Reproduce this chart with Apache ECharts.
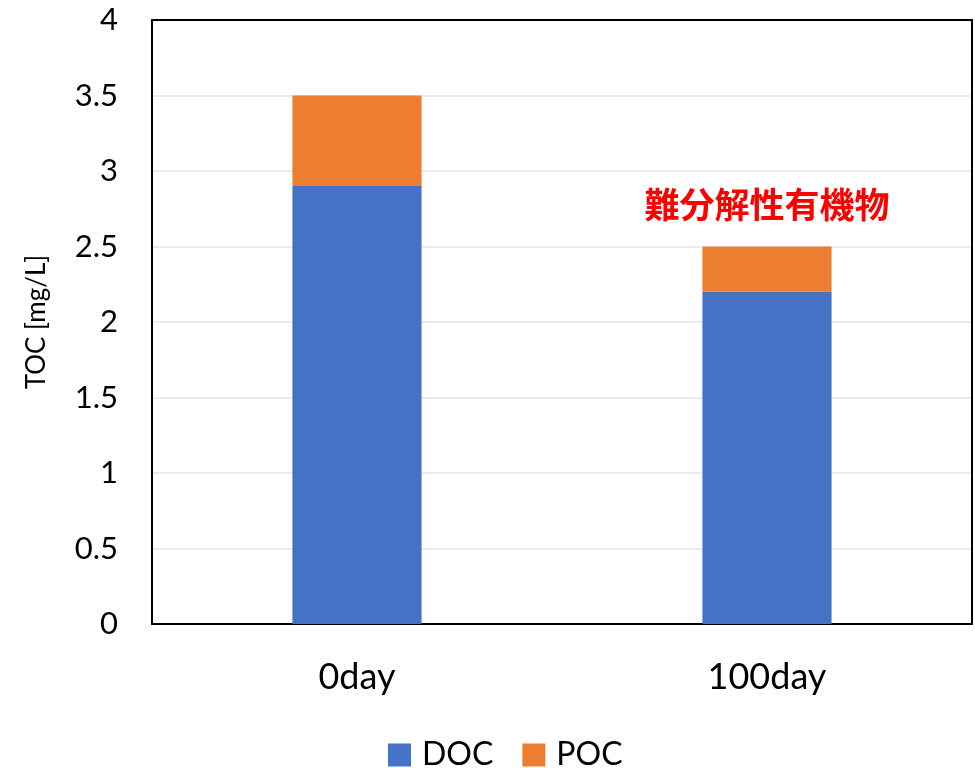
<!DOCTYPE html>
<html>
<head>
<meta charset="utf-8">
<script src="https://cdn.jsdelivr.net/npm/echarts@6/dist/echarts.min.js"></script>
<style>
  html, body { margin: 0; padding: 0; background: #fff; }
  #chart { width: 975px; height: 768px; }
</style>
</head>
<body>
<div id="chart"></div>
<script>
// Sampling days
const categories = ['0day', '100day'];
// Dissolved and particulate organic carbon, mg/L
const docValues = [2.9, 2.2];
const pocValues = [0.6, 0.3];
// Annotation over the 100-day stack
const noteText = '難分解性有機物';
const noteIndex = 1;

const font = 'Lato, "Open Sans", sans-serif';

const pocData = pocValues.map((v, i) => i === noteIndex ? {
  value: v,
  label: {
    show: true,
    position: 'top',
    distance: 24,
    formatter: noteText,
    color: '#ff0000',
    fontWeight: 'bold',
    fontSize: 35,
    fontFamily: '"Noto Sans CJK JP", sans-serif'
  }
} : v);

// Plain axes on the top and right close the plot frame
const frameLine = { show: true, onZero: false, lineStyle: { color: '#000', width: 2 } };

const chart = echarts.init(document.getElementById('chart'), null, { renderer: 'canvas' });
chart.setOption({
  animation: false,
  backgroundColor: '#ffffff',
  grid: { left: 152, right: 3, top: 20, bottom: 144, containLabel: false },
  legend: {
    data: ['DOC', 'POC'],
    top: 734,
    left: 383,
    itemWidth: 23,
    itemHeight: 23,
    itemGap: 29,
    icon: 'rect',
    textStyle: { fontSize: 32, color: '#000', fontFamily: font, padding: [0, 0, 0, 6] }
  },
  xAxis: [
    {
      type: 'category',
      data: categories,
      axisLine: frameLine,
      axisTick: { show: false },
      axisLabel: { fontSize: 36, color: '#000', fontFamily: font, margin: 35 }
    },
    {
      type: 'category',
      data: categories,
      position: 'top',
      axisLine: frameLine,
      axisTick: { show: false },
      axisLabel: { show: false },
      splitLine: { show: false }
    }
  ],
  yAxis: [
    {
      type: 'value',
      min: 0, max: 4, interval: 0.5,
      name: 'TOC [mg/L]',
      nameLocation: 'middle',
      nameGap: 102,
      nameTextStyle: { fontSize: 26, color: '#000', fontFamily: font },
      axisLine: frameLine,
      axisTick: { show: false },
      axisLabel: { fontSize: 31, color: '#000', fontFamily: font, margin: 34 },
      splitLine: { show: true, lineStyle: { color: '#ebebeb', width: 2 } }
    },
    {
      type: 'value',
      min: 0, max: 4, interval: 0.5,
      position: 'right',
      axisLine: frameLine,
      axisTick: { show: false },
      axisLabel: { show: false },
      splitLine: { show: false }
    }
  ],
  series: [
    {
      name: 'DOC', type: 'bar', stack: 'toc',
      data: docValues, barWidth: '31.5%',
      itemStyle: { color: '#4472c4' }
    },
    {
      name: 'POC', type: 'bar', stack: 'toc',
      data: pocData, barWidth: '31.5%',
      itemStyle: { color: '#ed7d31' }
    }
  ]
});
</script>
</body>
</html>
